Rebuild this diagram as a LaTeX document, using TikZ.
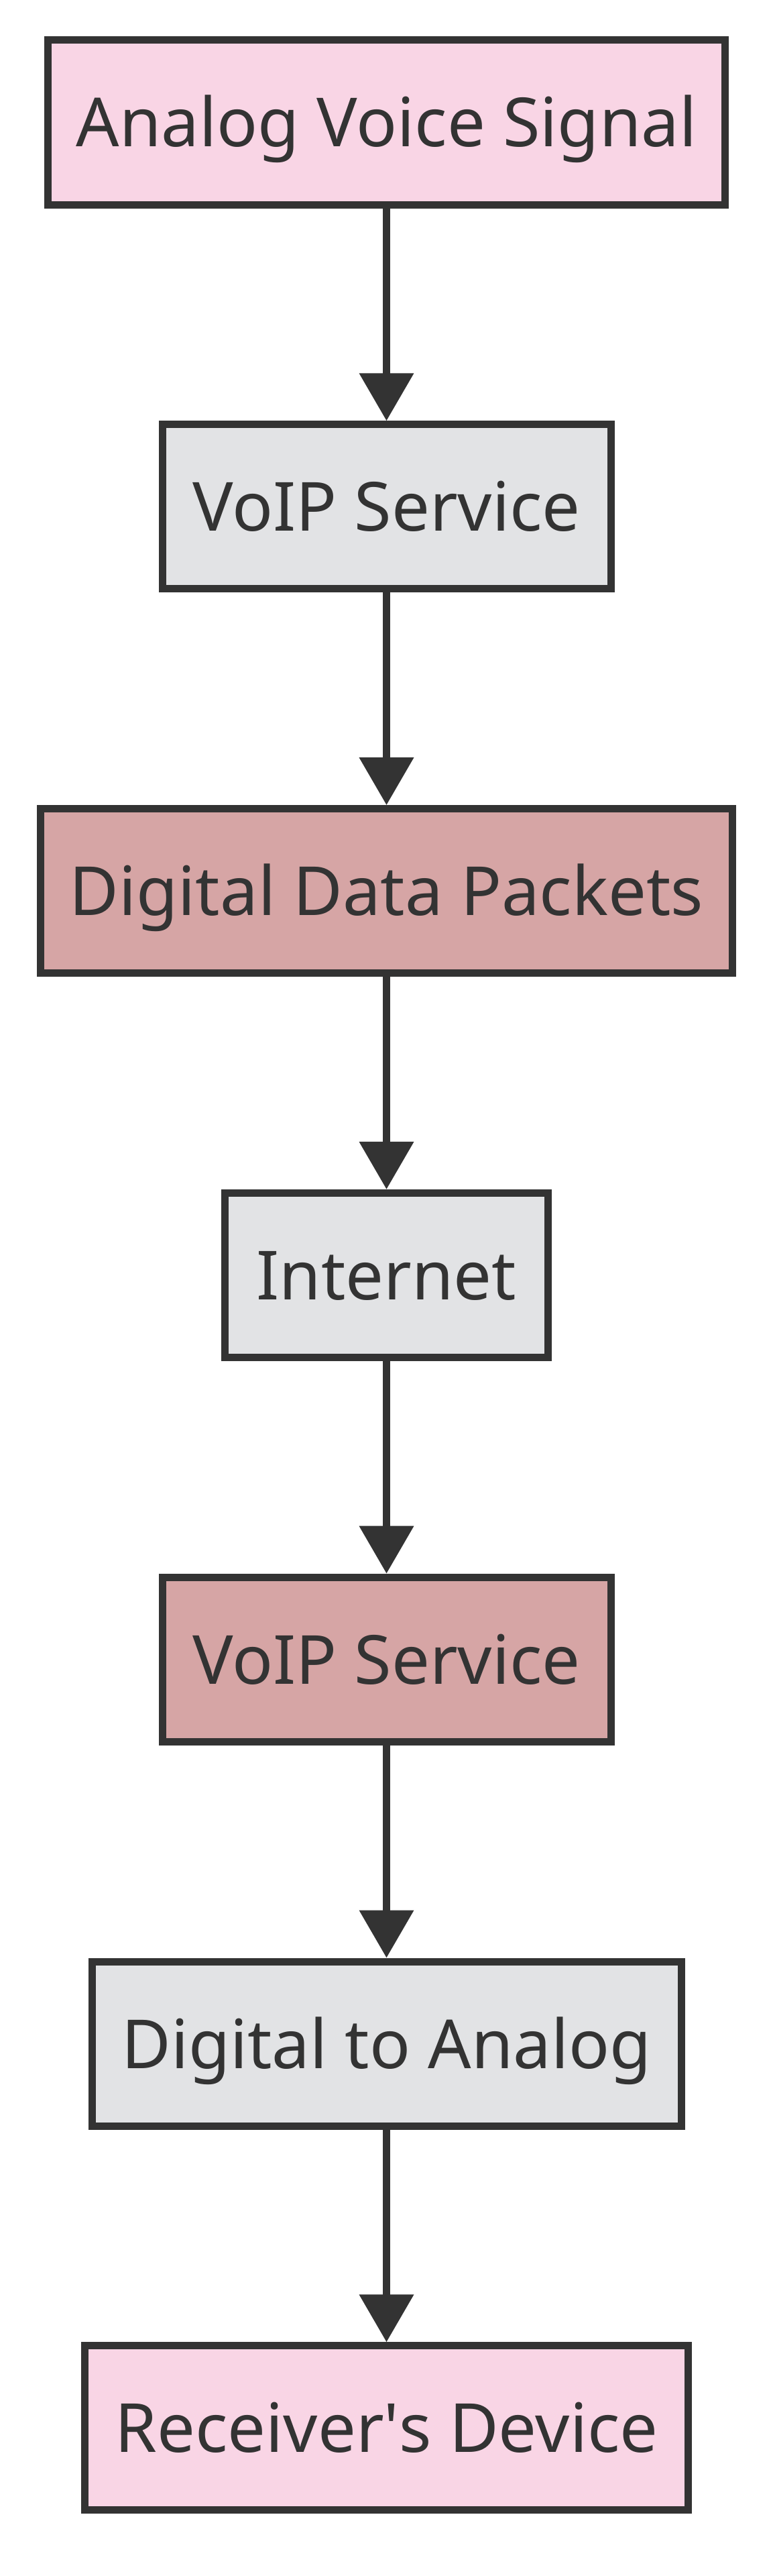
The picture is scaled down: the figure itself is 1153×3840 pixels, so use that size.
\documentclass[tikz,border=0pt]{standalone}
\usepackage{fontspec}
\setmainfont{Noto Sans}
\usetikzlibrary{arrows.meta}
\definecolor{inkc}{HTML}{333333}
\definecolor{pinkc}{HTML}{F9D5E5}
\definecolor{greyc}{HTML}{E2E3E5}
\definecolor{redc}{HTML}{D6A5A5}
\tikzset{
  box/.style={draw=inkc, line width=11pt, rectangle, minimum height=245pt,
    inner sep=0pt, text=inkc, text height=73pt, text depth=0pt,
    font=\fontsize{101}{120}\selectfont},
  link/.style={draw=inkc, line width=11pt,
    -{Triangle[length=71pt,width=79pt]}}
}
\begin{document}
\begin{tikzpicture}[x=1pt,y=-1pt]
\useasboundingbox[fill=white] (0,0) rectangle (1153,3840);
\node[box, fill=pinkc, minimum width=1010pt] (a) at (576.5,182.5) {Analog Voice Signal};
\node[box, fill=greyc, minimum width=669pt] (b) at (576.5,755.3) {VoIP Service};
\node[box, fill=redc, minimum width=1032pt] (c) at (576.5,1328.1) {Digital Data Packets};
\node[box, fill=greyc, minimum width=482pt] (d) at (576.5,1900.9) {Internet};
\node[box, fill=redc, minimum width=669pt] (e) at (576.5,2473.7) {VoIP Service};
\node[box, fill=greyc, minimum width=879pt] (f) at (576.5,3046.5) {Digital to Analog};
\node[box, fill=pinkc, minimum width=900pt] (g) at (576.5,3619.3) {Receiver\textquotesingle s Device};
\draw[link] (a) -- (b);
\draw[link] (b) -- (c);
\draw[link] (c) -- (d);
\draw[link] (d) -- (e);
\draw[link] (e) -- (f);
\draw[link] (f) -- (g);
\end{tikzpicture}
\end{document}
